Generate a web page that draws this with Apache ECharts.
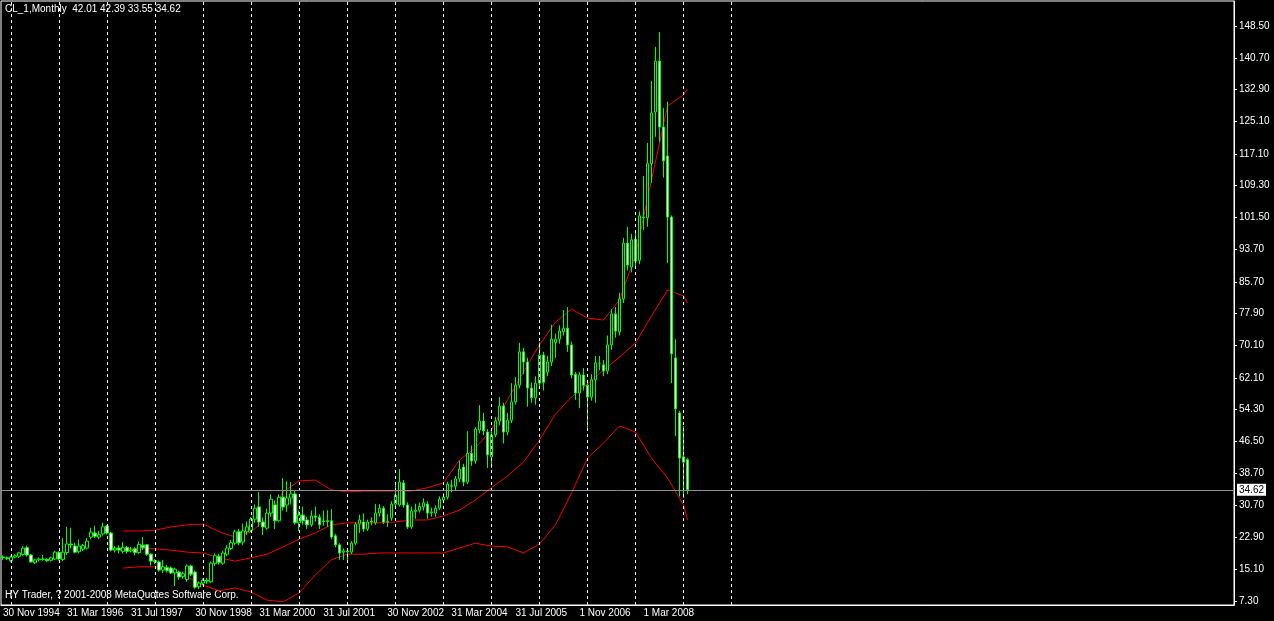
<!DOCTYPE html>
<html>
<head>
<meta charset="utf-8">
<script src="https://cdn.jsdelivr.net/npm/echarts@6/dist/echarts.min.js"></script>
<style>
  html, body { margin: 0; padding: 0; background: #000; }
  #chart { width: 1274px; height: 621px; }
</style>
</head>
<body>
<div id="chart"></div>
<script>
// monthly bars, index 0 = Nov 1994
var opens = [18.1,17.9,17.2,18.1,18.3,18.7,20.4,18.6,16.7,17.4,17.6,17.5,17.3,17.6,19.3,17.5,19.2,21.3,20.8,19.4,
  20.0,20.3,23.0,24.0,23.0,23.8,25.7,24.0,19.8,20.3,19.5,20.5,19.6,20.1,19.2,21.0,21.1,18.8,17.2,16.9,
  14.9,15.5,15.4,14.2,14.4,13.3,12.6,15.9,14.4,10.8,11.7,12.4,12.0,16.5,18.3,16.6,18.8,20.2,21.5,24.3,
  21.8,24.3,24.7,27.4,30.4,26.7,25.2,28.9,30.9,27.0,32.8,30.9,32.6,33.6,26.5,28.4,27.2,26.0,28.2,27.9,
  26.8,27.0,27.0,23.3,21.1,19.3,19.6,19.3,21.5,26.2,26.7,25.0,26.7,26.5,28.9,30.1,26.8,27.7,31.1,30.9,
  36.3,30.9,25.5,29.3,29.6,30.4,31.1,29.0,28.9,30.1,32.1,32.8,35.5,35.5,37.3,40.2,36.5,43.6,41.7,49.3,
  51.5,48.8,42.7,48.1,51.5,55.2,48.8,51.7,56.2,60.3,68.5,66.0,59.6,57.2,60.8,67.7,63.5,66.0,70.8,71.6,
  73.4,74.3,70.2,63.0,58.4,62.8,60.3,57.4,61.6,65.6,65.3,63.8,70.2,77.8,73.4,81.5,95.2,89.3,96.2,91.0,
  101.4,101.4,114.7,127.4,139.9,123.7,116.6,101.6,67.0,53.5,42.7,42.01];
var closes = [17.9,17.7,18.1,18.4,19.1,20.3,18.6,16.9,17.4,17.6,17.5,17.2,17.9,19.3,17.6,19.3,21.3,21.1,19.3,20.8,
  20.9,22.0,24.2,23.2,23.6,25.5,24.0,19.8,20.3,19.8,20.4,19.5,19.9,19.2,21.2,20.4,18.8,17.1,17.0,14.9,
  15.7,14.8,14.2,15.1,13.2,14.0,15.9,13.9,10.7,11.7,12.4,12.2,16.6,18.4,16.8,19.1,20.3,21.6,24.3,21.6,
  24.5,25.5,27.4,30.1,26.7,25.5,28.9,32.3,27.0,32.8,30.4,32.6,33.6,26.5,28.4,27.0,26.0,28.2,27.9,26.0,
  27.0,26.8,23.0,21.1,19.1,19.6,19.4,21.5,26.2,27.2,25.0,26.7,26.9,28.9,30.1,26.7,26.8,31.1,33.3,36.5,
  30.9,25.5,29.4,29.6,30.5,31.4,28.9,29.2,30.1,32.3,32.8,36.0,35.6,37.3,39.7,36.5,43.6,41.7,49.5,51.5,
  49.1,43.2,48.1,51.5,55.2,48.8,51.7,56.2,60.3,68.5,66.0,59.6,57.2,60.8,67.7,61.0,66.0,71.6,71.6,73.6,
  74.3,70.2,62.8,58.4,62.8,60.3,57.4,61.6,65.8,65.6,63.8,70.2,77.8,73.6,81.5,95.2,89.8,96.0,90.8,101.9,
  101.6,114.7,127.2,139.9,123.7,115.4,101.6,68.0,54.5,42.4,41.4,34.62];
var lows = [17.4,17.4,16.8,17.8,17.9,18.4,18.2,16.7,16.4,17.0,17.2,16.9,17.0,17.4,17.2,17.1,18.6,20.2,19.0,19.0,
  19.6,20.0,22.5,22.8,22.5,23.4,23.6,19.5,19.2,19.0,19.0,18.9,19.2,18.5,18.9,19.8,18.4,16.0,16.4,14.5,
  14.2,14.3,13.9,11.0,12.5,12.8,12.0,13.4,10.3,10.2,11.2,11.5,11.7,15.9,16.3,16.2,18.3,19.8,21.0,21.0,
  21.0,23.5,24.2,26.5,25.5,23.5,24.8,28.0,25.0,26.8,29.5,29.2,31.0,26.0,24.5,26.0,25.0,25.5,26.8,25.0,
  25.8,25.5,22.5,20.5,17.4,17.4,17.4,18.8,21.0,24.0,24.3,24.5,25.9,26.0,28.0,26.2,25.5,27.0,30.5,30.5,
  30.2,25.0,25.0,27.5,29.0,29.5,27.5,28.0,28.0,29.6,31.5,32.2,34.0,34.5,36.5,35.5,36.0,40.5,41.0,48.5,
  48.0,40.0,40.0,47.5,50.5,46.0,48.0,51.0,55.5,59.5,63.0,55.0,56.0,55.5,60.0,59.0,62.5,65.0,67.0,70.5,
  72.5,68.5,62.0,56.7,54.7,59.0,49.8,56.5,56.0,64.0,62.5,63.0,69.0,72.0,72.5,80.5,88.5,88.0,89.5,90.0,
  98.4,99.2,110.0,121.3,120.0,111.3,90.3,60.8,47.8,33.0,32.6,33.55];
var highs = [18.5,18.2,18.4,18.8,19.4,20.8,20.9,18.8,17.6,18.0,18.6,17.8,18.2,19.6,19.5,22.8,25.5,25.3,21.6,22.4,
  21.3,22.8,25.3,25.8,24.5,26.6,26.0,24.3,20.8,21.0,21.8,20.8,20.6,20.5,21.9,23.0,21.3,19.0,17.6,17.2,
  17.4,16.2,15.8,15.5,14.8,14.5,16.3,16.2,14.8,12.1,12.8,13.0,17.0,19.0,18.9,19.6,21.0,22.3,24.8,25.0,
  26.3,26.8,27.9,31.0,34.1,27.8,30.0,33.5,32.0,33.5,37.5,36.8,36.5,34.5,29.5,30.5,28.0,29.5,30.5,28.6,
  29.5,29.6,29.9,23.8,21.5,20.2,20.3,22.0,26.6,28.5,28.8,27.3,27.8,31.1,31.1,30.6,28.6,31.8,35.8,39.7,
  37.0,31.5,30.5,31.2,31.5,32.5,31.8,30.2,30.8,33.0,33.8,36.6,37.0,38.0,41.7,41.0,49.0,45.5,50.0,55.4,
  53.5,49.5,49.0,52.5,57.4,56.0,53.5,60.8,62.3,70.7,69.5,67.0,61.0,62.5,70.8,68.5,67.5,75.1,73.0,75.0,
  78.8,79.5,71.0,63.5,63.5,64.5,61.5,63.0,67.5,67.5,66.5,72.5,79.0,79.5,83.0,96.5,99.2,97.5,98.0,103.0,
  111.7,119.8,135.0,143.4,147.0,128.4,129.9,102.0,71.6,54.0,50.3,42.39];

// band lines sampled every 4 bars
var bandIdx = [30,34,38,42,46,50,54,58,62,66,70,74,78,82,86,90,94,98,102,106,110,114,118,122,126,130,134,138,142,146,150,154,158,162,166,170,171];
var upperBand = [24.5,24.5,24.7,25.5,26.0,26.2,24.3,23.0,24.3,27.7,34.1,36.8,37.0,34.6,34.1,34.3,34.3,34.3,34.3,35.1,36.3,41.9,44.9,49.3,56.7,63.5,70.2,75.8,79.0,76.8,76.3,81.2,92.3,110.7,128.9,131.6,133.1];
var middleBand = [20.1,20.3,20.1,19.8,19.3,19.1,17.9,17.1,17.9,18.8,20.6,22.5,24.0,26.0,26.5,26.5,26.5,26.7,27.2,27.2,28.2,29.6,32.1,35.1,38.0,41.4,46.8,53.2,57.4,60.6,64.0,67.2,70.7,77.3,83.7,82.2,80.5];
var lowerBand = [15.4,15.7,15.7,14.9,13.2,11.2,9.8,10.5,9.5,7.5,7.1,9.3,13.7,17.4,18.8,18.8,19.1,19.1,19.1,19.1,19.1,20.3,21.5,20.8,20.6,19.1,21.3,26.0,33.8,42.4,46.1,50.3,48.8,42.4,37.5,30.9,27.2];

var tickLabels = ['30 Nov 1994','31 Mar 1996','31 Jul 1997','30 Nov 1998','31 Mar 2000','31 Jul 2001','30 Nov 2002','31 Mar 2004','31 Jul 2005','1 Nov 2006','1 Mar 2008'];
var priceLabels = [148.50,140.70,132.90,125.10,117.10,109.30,101.50,93.70,85.70,77.90,70.10,62.10,54.30,46.50,38.70,30.70,22.90,15.10,7.30];
var yearStarts = [2,14,26,38,50,62,74,86,98,110,122,134,146,158,170,182];
var lastPrice = 34.62;

var slots = [];
for (var i = 0; i < 308; i++) slots.push(String(i));

var candles = [];
for (var i = 0; i < opens.length; i++) {
  candles.push([opens[i], closes[i], lows[i], highs[i]]);
}
function band(vals) {
  return bandIdx.map(function(ix, k) { return [String(ix), vals[k]]; });
}
function labelTick(idx) {
  return idx % 16 === 0 && idx / 16 < tickLabels.length;
}

var font = 'Liberation Sans';
var chart = echarts.init(document.getElementById('chart'));
chart.setOption({
  backgroundColor: '#000',
  animation: false,
  grid: { left: 1, right: 40, top: 1, bottom: 16, show: true, borderColor: '#fff', borderWidth: 1 },
  xAxis: {
    type: 'category',
    data: slots,
    boundaryGap: true,
    axisLine: { lineStyle: { color: '#fff' } },
    axisTick: { alignWithLabel: true, length: 3, lineStyle: { color: '#fff' }, interval: labelTick },
    axisLabel: {
      color: '#fff', fontFamily: font, fontSize: 10, align: 'left', margin: 3,
      interval: labelTick,
      formatter: function(v, idx) { return tickLabels[idx / 16] || ''; }
    },
    splitLine: { show: false }
  },
  yAxis: {
    type: 'value',
    position: 'right',
    min: 6.32,
    max: 154.66,
    axisLine: { show: true, lineStyle: { color: '#fff' } },
    axisTick: { show: true, length: 3, customValues: priceLabels, lineStyle: { color: '#fff' } },
    axisLabel: {
      color: '#fff', fontFamily: font, fontSize: 10, margin: 5, customValues: priceLabels,
      formatter: function(v) { return v.toFixed(2); }
    },
    splitLine: { show: false }
  },
  series: [
    {
      type: 'line', data: band(upperBand), symbol: 'none', connectNulls: true, z: 1,
      lineStyle: { color: '#ff0000', width: 1 }
    },
    {
      type: 'line', data: band(middleBand), symbol: 'none', connectNulls: true, z: 1,
      lineStyle: { color: '#ff0000', width: 1 }
    },
    {
      type: 'line', data: band(lowerBand), symbol: 'none', connectNulls: true, z: 1,
      lineStyle: { color: '#ff0000', width: 1 }
    },
    {
      type: 'candlestick',
      data: candles,
      barWidth: 3,
      z: 3,
      itemStyle: {
        color: '#000000', color0: '#ffffff',
        borderColor: '#00ff00', borderColor0: '#00ff00', borderWidth: 1
      },
      markLine: {
        silent: true,
        symbol: 'none',
        animation: false,
        data: yearStarts.map(function(ix) {
          return { xAxis: String(ix), lineStyle: { color: '#ffffff', type: [3, 3], width: 1 }, label: { show: false } };
        }).concat([{
          yAxis: lastPrice,
          lineStyle: { color: '#8a8f99', type: 'solid', width: 1 },
          label: {
            show: true, position: 'end', formatter: lastPrice.toFixed(2), distance: 3,
            backgroundColor: '#fff', color: '#000', fontFamily: font, fontSize: 10, padding: [1, 2]
          }
        }])
      }
    }
  ],
  graphic: [
    { type: 'text', left: 5, top: 4, style: { text: 'CL_1,Monthly  42.01 42.39 33.55 34.62', fill: '#fff', font: '10px ' + font } },
    { type: 'text', left: 5, top: 590, style: { text: 'HY Trader, ? 2001-2008 MetaQuotes Software Corp.', fill: '#fff', font: '10px ' + font } }
  ]
});
</script>
</body>
</html>
